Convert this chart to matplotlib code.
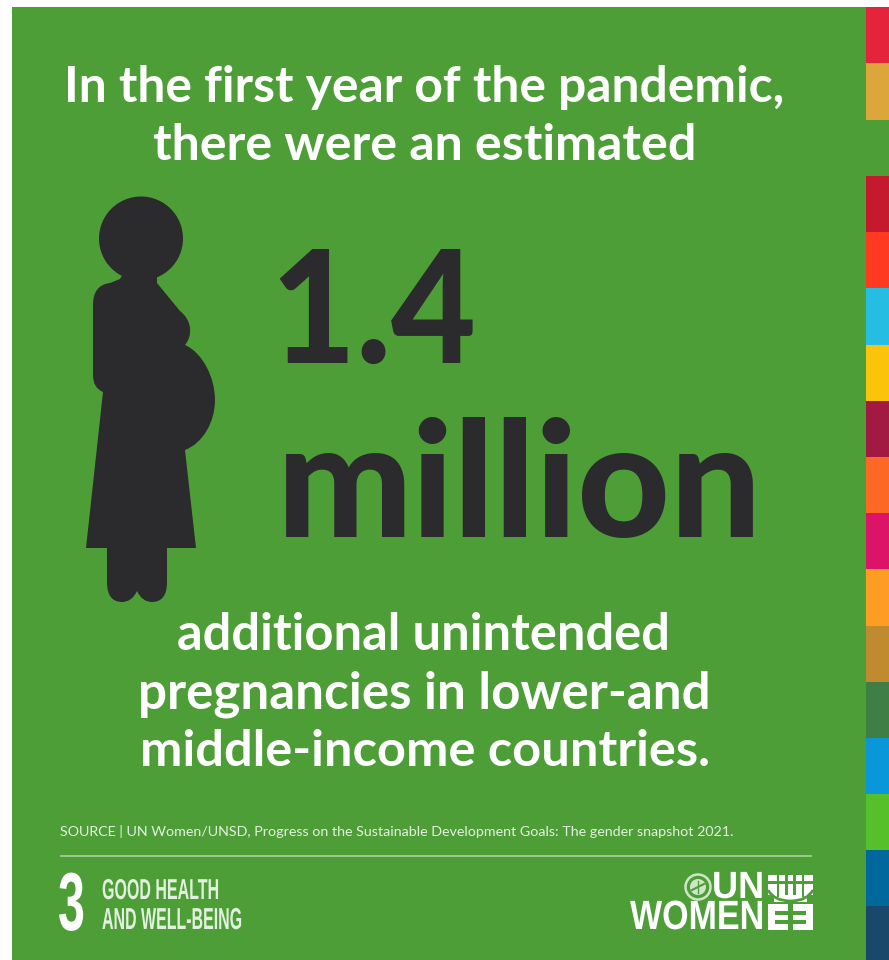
import matplotlib
matplotlib.use("Agg")
import matplotlib.pyplot as plt
from matplotlib.patches import Rectangle, Circle, PathPatch
from matplotlib.path import Path
from matplotlib.patheffects import AbstractPathEffect
from matplotlib.transforms import Affine2D

TITLE = ["In the first year of the pandemic,", "there were an estimated"]
FIGURE = ["1.4", "million"]
BODY = ["additional unintended", "pregnancies in lower-and", "middle-income countries."]
SOURCE = "SOURCE | UN Women/UNSD, Progress on the Sustainable Development Goals: The gender snapshot 2021."
GOAL_NUM = "3"
GOAL = ["GOOD HEALTH", "AND WELL-BEING"]
LOGO = ["UN", "WOMEN"]
STRIPES = ["#E5243B", "#DDA63A", "#4E9E38", "#C5192D", "#FF3A21", "#26BDE2", "#FCC30B", "#A21942",
           "#FD6925", "#DD1367", "#FD9D24", "#BF8B2E", "#3F7E44", "#0A97D9", "#56C02B", "#00689D", "#19486A"]
STRIPE_EDGES = [7, 63, 120, 176, 232, 288, 345, 401, 457, 513, 569, 626, 682, 738, 794, 850, 906, 960]

GREEN = "#4E9E38"
DARK = "#2B2A2C"
W = "#FFFFFF"
SOFT = "#E4F0DF"


class Tall(AbstractPathEffect):
    """Stretch a text vertically about its own baseline."""

    def __init__(self, sy):
        super().__init__()
        self.sy = sy

    def draw_path(self, renderer, gc, tpath, affine, rgbFace=None):
        y0 = affine.get_matrix()[1, 2]
        tr = affine + Affine2D().translate(0, -y0).scale(1, self.sy).translate(0, y0)
        renderer.draw_path(gc, tpath, tr, rgbFace)


fig = plt.figure(figsize=(8.89, 9.60), dpi=100, facecolor="white")
ax = fig.add_axes([0, 0, 1, 1])
ax.set_xlim(0, 889)
ax.set_ylim(960, 0)
ax.axis("off")

ax.add_patch(Rectangle((12, 7), 854, 953, fc=GREEN, ec="none"))
for c, y0, y1 in zip(STRIPES, STRIPE_EDGES[:-1], STRIPE_EDGES[1:]):
    ax.add_patch(Rectangle((866, y0), 23, y1 - y0, fc=c, ec="none"))

renderer = fig.canvas.get_renderer()


def fit(s, x0, x1, base, color=W, family="Lato", weight="bold", sy=None):
    t = ax.text(x0, base, s, color=color, family=family, weight=weight, fontsize=20, ha="left", va="baseline")
    w = t.get_window_extent(renderer).width
    t.set_fontsize(20 * (x1 - x0) / w)
    if sy:
        t.set_path_effects([Tall(sy)])
    return t


fit(TITLE[0], 64, 785, 102)
fit(TITLE[1], 153, 696, 160)
fit(FIGURE[0], 271, 475, 363, DARK, weight="black", sy=1.07)
fit(FIGURE[1], 277, 765, 537, DARK, weight="black")
fit(BODY[0], 177, 671, 650)
fit(BODY[1], 138, 711, 708)
fit(BODY[2], 140, 709, 766)
fit(SOURCE, 60, 738, 836, SOFT, weight="normal")
ax.plot([60, 812], [856, 856], color="#A9D09C", lw=1.2, solid_capstyle="butt")

fit(GOAL_NUM, 58, 85, 930, family="Liberation Sans", sy=1.7)
fit(GOAL[0], 102, 219, 899, SOFT, family="Liberation Sans", sy=1.8)
fit(GOAL[1], 102, 242, 929, SOFT, family="Liberation Sans", sy=1.9)
fit(LOGO[0], 712, 764, 898, family="Liberation Sans", sy=1.05)
fit(LOGO[1], 630, 764, 929, family="Liberation Sans", sy=1.2)

# UN globe
ax.add_patch(Circle((698, 887), 12.5, fc="none", ec="#CFE5C8", lw=1.8))
ax.add_patch(Circle((698, 887), 8, fc="#CFE5C8", ec="none"))
ax.plot([692, 704], [890, 884], color=GREEN, lw=1.5)
ax.plot([698, 698], [881, 893], color=GREEN, lw=1)

# emblem
ax.add_patch(Rectangle((768, 875), 45, 27, fc=W, ec="none"))
ax.add_patch(Rectangle((768, 904), 20, 26, fc=W, ec="none"))
ax.add_patch(Rectangle((793, 904), 20, 26, fc=W, ec="none"))
for x0, y0, w, h in [(768, 881, 45, 3), (777, 875, 2, 22), (802, 875, 2, 22), (785, 875, 3, 20), (793, 875, 3, 20),
                     (775, 911, 13, 3.5), (775, 920, 13, 3.5), (793, 911, 13, 3.5), (793, 920, 13, 3.5)]:
    ax.add_patch(Rectangle((x0, y0), w, h, fc=GREEN, ec="none"))
ax.add_patch(PathPatch(Path([(768, 890), (774, 901), (790.5, 901), (807, 901), (813, 890)],
                            [Path.MOVETO, Path.CURVE3, Path.CURVE3, Path.CURVE3, Path.CURVE3]),
                       fc="none", ec=GREEN, lw=2))
ax.add_patch(Rectangle((768, 895), 6, 9, fc=GREEN, ec="none"))
ax.add_patch(Rectangle((807, 895), 6, 9, fc=GREEN, ec="none"))

# pregnant silhouette
ax.add_patch(Circle((141, 238.5), 42, fc=DARK, ec="none"))
L, Q, C = Path.LINETO, Path.CURVE3, Path.CURVE4
SEG = [((120, 279), Path.MOVETO), ((110, 283), L), ((93, 285), Q), ((93, 305), Q),
       ((93, 375), L), ((93, 388), Q), ((103, 392), Q),
       ((86, 548), L), ((107, 548), L), ((107, 582), L), ((107, 602), Q), ((122, 602), Q),
       ((132, 602), Q), ((137, 591), Q), ((142, 602), Q), ((152, 602), Q),
       ((167, 602), Q), ((167, 582), Q), ((167, 548), L), ((196, 548), L), ((185, 450), L),
       ((203, 443), C), ((215, 422), C), ((215, 400), C), ((215, 378), C), ((203, 353), C), ((185, 345), C),
       ((191, 338), Q), ((190, 328), Q), ((189, 318), Q), ((180, 311), Q),
       ((157, 283), L), ((157, 270), L), ((125, 270), L), ((120, 279), L)]
ax.add_patch(PathPatch(Path([p for p, _ in SEG], [k for _, k in SEG]), fc=DARK, ec="none"))

fig.savefig("out.png", dpi=100, facecolor="white")
